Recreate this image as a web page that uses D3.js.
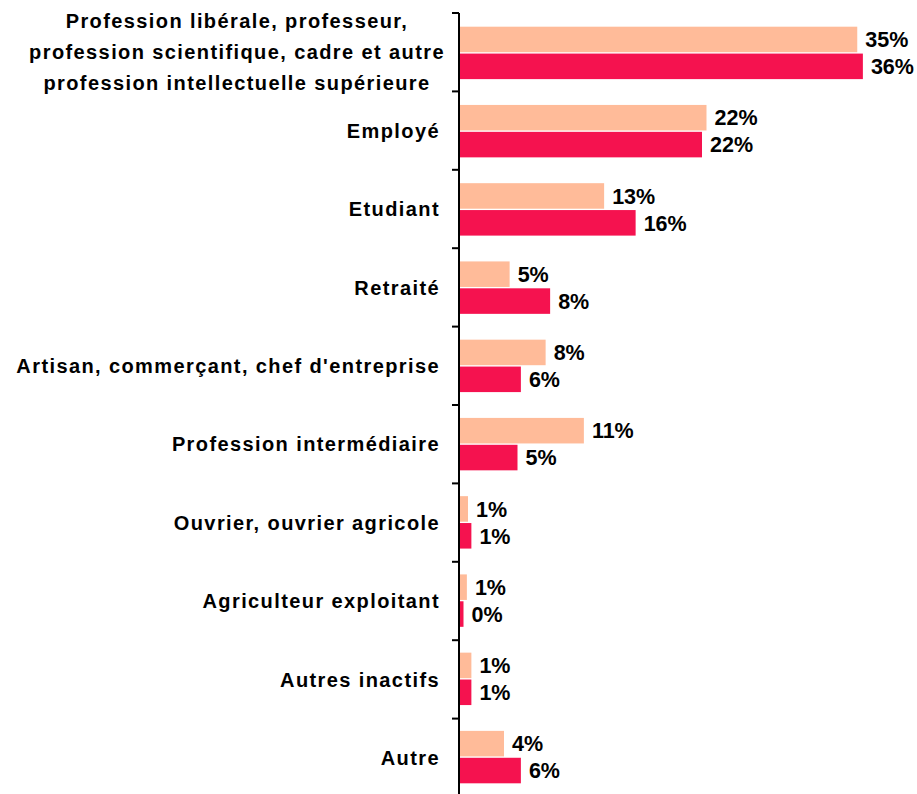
<!DOCTYPE html>
<html>
<head>
<meta charset="utf-8">
<script src="https://cdn.jsdelivr.net/npm/d3@7"></script>
<style>
  html, body { margin: 0; padding: 0; background: #ffffff; }
  svg { display: block; }
</style>
</head>
<body>
<div id="chart"></div>
<script>
// ---- Data ----
const categories = [
  ["Profession libérale, professeur,", "profession scientifique, cadre et autre", "profession intellectuelle supérieure"],
  ["Employé"],
  ["Etudiant"],
  ["Retraité"],
  ["Artisan, commerçant, chef d'entreprise"],
  ["Profession intermédiaire"],
  ["Ouvrier, ouvrier agricole"],
  ["Agriculteur exploitant"],
  ["Autres inactifs"],
  ["Autre"]
];
const seriesNames = ["Série 1", "Série 2"];
const series1 = [35.4, 22.0, 12.9, 4.5, 7.7, 11.1, 0.8, 0.7, 1.1, 4.0];
const series2 = [35.9, 21.6, 15.7, 8.1, 5.5, 5.2, 1.1, 0.4, 1.1, 5.5];
const xDomain = [0, 40];

// ---- Layout ----
const W = 917, H = 794;
const axisX = 459, axisTop = 13, axisBottom = 797;
const colors = ["#FFBB99", "#F5124F"];
const FONT = "Liberation Sans, Arial, sans-serif";

const svg = d3.select("#chart").append("svg")
  .attr("width", W).attr("height", H);

const rows = categories.map((c, i) => ({ idx: i, lines: c, vals: [series1[i], series2[i]] }));

const y = d3.scaleBand()
  .domain(rows.map(r => r.idx))
  .range([axisTop, axisBottom])
  .paddingInner(0.33)
  .paddingOuter(0.175)
  .align(0.5);

const yInner = d3.scaleBand()
  .domain([0, 1])
  .range([0, y.bandwidth()])
  .paddingInner(0.05);

const x = d3.scaleLinear().domain(xDomain).range([axisX, axisX + 450]);

// bars
const g = svg.append("g");
rows.forEach(r => {
  r.vals.forEach((v, s) => {
    const top = y(r.idx) + yInner(s);
    g.append("rect")
      .attr("x", x(0))
      .attr("y", top)
      .attr("width", x(v) - x(0))
      .attr("height", yInner.bandwidth())
      .attr("fill", colors[s]);
    g.append("text")
      .attr("x", x(v) + 8)
      .attr("y", top + yInner.bandwidth() / 2)
      .attr("dy", "0.36em")
      .attr("font-family", FONT)
      .attr("font-weight", "bold")
      .attr("font-size", 21.5)
      .attr("fill", "#000")
      .text(Math.round(v) + "%");
  });
});

// axis: band boundaries as ticks
const step = (axisBottom - axisTop) / categories.length;
const bounds = d3.range(categories.length + 1).map(i => axisTop + i * step);
const axisG = svg.append("g");
axisG.append("line")
  .attr("x1", axisX).attr("x2", axisX)
  .attr("y1", axisTop).attr("y2", axisBottom)
  .attr("stroke", "#000").attr("stroke-width", 2);
bounds.forEach(b => {
  axisG.append("line")
    .attr("x1", axisX - 7).attr("x2", axisX)
    .attr("y1", b).attr("y2", b)
    .attr("stroke", "#000").attr("stroke-width", 2);
});

// category labels
const labelRight = 440;
rows.forEach(r => {
  const cy = axisTop + (r.idx + 0.5) * step;
  const n = r.lines.length;
  const lh = 31;
  const multi = n > 1;
  const t = svg.append("text")
    .attr("font-family", FONT)
    .attr("font-weight", "bold")
    .attr("font-size", 20)
    .attr("letter-spacing", "1.4px")
    .attr("fill", "#000")
    .attr("text-anchor", multi ? "middle" : "end");
  r.lines.forEach((ln, k) => {
    t.append("tspan")
      .attr("x", multi ? 237 : labelRight)
      .attr("y", cy + (k - (n - 1) / 2) * lh)
      .attr("dy", "0.36em")
      .text(ln);
  });
});
</script>
</body>
</html>
